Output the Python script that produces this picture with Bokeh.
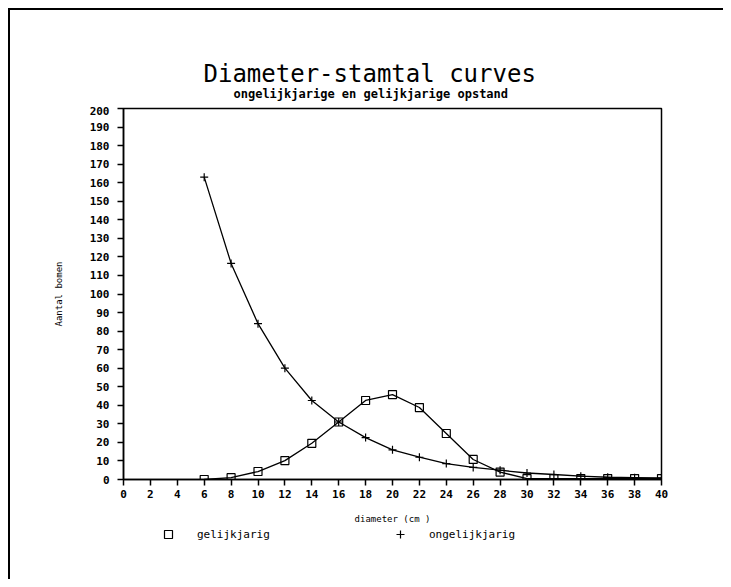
from bokeh.plotting import figure
from bokeh.models import Range1d, FixedTicker, Legend, LegendItem, Label
from bokeh.layouts import column
from bokeh.embed import file_html
from bokeh.resources import INLINE

diameter = [6, 8, 10, 12, 14, 16, 18, 20, 22, 24, 26, 28, 30, 32, 34, 36, 38, 40]
gelijkjarig = [0, 1, 4.3, 10.2, 19.5, 31, 42.6, 45.8, 38.8, 24.8, 10.8, 4, 0.5, 0.5, 0.5, 0.5, 0.5, 0.5]
ongelijkjarig = [163, 116.5, 84, 60, 42.6, 31, 22.6, 16, 12, 8.6, 6.5, 5, 3.5, 2.7, 1.8, 1.2, 1, 0.8]
x_ticks = list(range(0, 41, 2))
y_ticks = list(range(0, 201, 10))
title_text = "Diameter-stamtal curves"
subtitle_text = "ongelijkjarige en gelijkjarige opstand"

FONT = "DejaVu Sans Mono"


def strip(height):
    f = figure(width=713, height=height, x_range=Range1d(0, 1), y_range=Range1d(0, 1),
               output_backend="svg", toolbar_location=None, title=None,
               x_axis_location=None, y_axis_location=None, min_border=0)
    f.grid.visible = False
    f.outline_line_color = None
    return f


# title strip
top = strip(96)
top.add_layout(Label(x=80 / 538, y=(96 - 63) / 96, text=title_text, text_align="left",
                     text_baseline="middle", text_font=FONT, text_font_size="24px",
                     text_color="black"))
top.add_layout(Label(x=110 / 538, y=(96 - 83) / 96, text=subtitle_text, text_align="left",
                     text_baseline="middle", text_font=FONT, text_font_size="12px",
                     text_font_style="bold", text_color="black"))

# main chart
p = figure(width=713, height=421, x_range=Range1d(0, 40), y_range=Range1d(0, 200),
           output_backend="svg", toolbar_location=None, title=None,
           min_border_left=113, min_border_right=62, min_border_top=2, min_border_bottom=48)
p.grid.visible = False
p.outline_line_color = "black"
p.outline_line_width = 1.5

for ax in (p.xaxis[0], p.yaxis[0]):
    ax.axis_line_color = "black"
    ax.axis_line_width = 1.5
    ax.major_tick_line_color = "black"
    ax.major_tick_line_width = 1.5
    ax.major_tick_in = 0
    ax.major_tick_out = 6
    ax.minor_tick_line_color = None
    ax.major_label_text_font = FONT
    ax.major_label_text_font_style = "bold"
    ax.major_label_text_font_size = "11px"
    ax.major_label_text_color = "black"
    ax.axis_label_text_font = FONT
    ax.axis_label_text_font_style = "normal"
    ax.axis_label_text_font_size = "9px"
    ax.axis_label_text_color = "black"

p.xaxis.ticker = FixedTicker(ticks=x_ticks)
p.yaxis.ticker = FixedTicker(ticks=y_ticks)
p.xaxis.axis_label = "diameter (cm )"
p.yaxis.axis_label = "Aantal bomen"
p.xaxis.major_label_standoff = 4
p.yaxis.major_label_standoff = 8
p.xaxis.axis_label_standoff = 13
p.yaxis.axis_label_standoff = 23

p.line(diameter, gelijkjarig, line_color="black", line_width=1.3)
p.line(diameter, ongelijkjarig, line_color="black", line_width=1.3)
p.scatter(diameter, gelijkjarig, marker="square", size=8, fill_color=None,
          line_color="black", line_width=1.2)
p.scatter(diameter, ongelijkjarig, marker="cross", size=8,
          line_color="black", line_width=1.2)

# legend strip below the chart (its own ranges keep the series out of view)
leg = strip(52)
leg.x_range = Range1d(-2, -1)
sq = leg.scatter(diameter, gelijkjarig, marker="square", size=8, fill_color=None,
                 line_color="black", line_width=1.2)
pl = leg.scatter(diameter, ongelijkjarig, marker="cross", size=8,
                 line_color="black", line_width=1.2)
lg = Legend(items=[LegendItem(label="gelijkjarig", renderers=[sq]),
                   LegendItem(label="ongelijkjarig", renderers=[pl])],
            location=(35, 35), orientation="horizontal", border_line_color=None,
            background_fill_alpha=0, padding=0, margin=0, spacing=107,
            label_standoff=19, glyph_width=20, glyph_height=20, label_width=86, label_height=12,
            label_text_font=FONT, label_text_font_size="11px", label_text_color="black")
leg.add_layout(lg, "center")

layout = column(top, p, leg, spacing=0,
                styles={"margin-left": "8px", "margin-top": "8px",
                        "border-left": "2px solid black", "border-top": "2px solid black"})

open("out.html", "w").write(file_html(layout, INLINE))
